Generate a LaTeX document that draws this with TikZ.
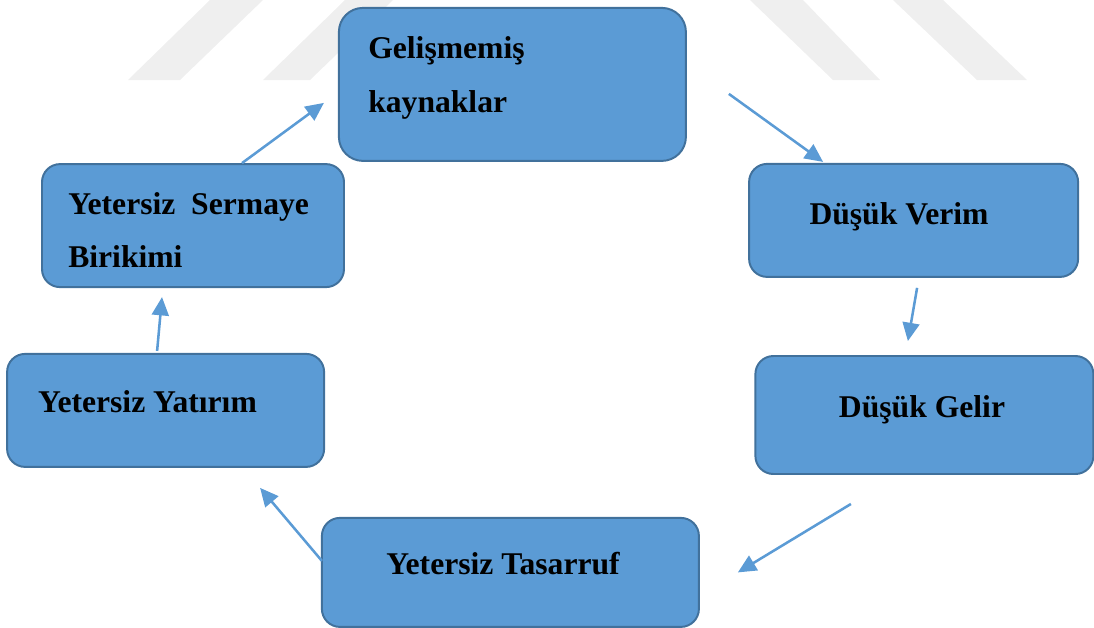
\documentclass[tikz,border=0pt]{standalone}
\usepackage{fontspec}
\setmainfont{Liberation Serif}
\usetikzlibrary{arrows.meta}
\definecolor{boxblue}{HTML}{5B9BD5}
\definecolor{boxedge}{HTML}{41719C}
\definecolor{markgray}{HTML}{EFEFEF}

\begin{document}
\begin{tikzpicture}[
    box/.style={draw=boxedge, line width=1.4pt, fill=boxblue, rounded corners=0.45cm},
    lbl/.style={font=\fontsize{22.5}{38}\selectfont\bfseries, inner sep=0pt, align=left},
    arr/.style={-{Triangle[length=13pt,width=12pt]}, color=boxblue, line width=1.8pt}]
    % basics
    \useasboundingbox (0,0) rectangle (27.35,-15.7);
    \fill[markgray] (3.2,-2) -- (4.5,-2) -- (6.575,0) -- (5.25,0) -- cycle;
    \fill[markgray] (6.575,-2) -- (7.75,-2) -- (9.825,0) -- (8.625,0) -- cycle;
    \fill[markgray] (18.75,0) -- (20.075,0) -- (22,-2) -- (20.825,-2) -- cycle;
    \fill[markgray] (22.325,0) -- (23.575,0) -- (25.675,-2) -- (24.425,-2) -- cycle;

    % boxes
    \node[box, minimum width=8.675cm, minimum height=3.825cm, rounded corners=0.6cm] (gel) at (12.81,-2.11) {};
    \node[box, minimum width=8.225cm, minimum height=2.825cm] (verim) at (22.84,-5.51) {};
    \node[box, minimum width=8.45cm, minimum height=2.95cm] (gelir) at (23.11,-10.375) {};
    \node[box, minimum width=9.425cm, minimum height=2.725cm] (tas) at (12.76,-14.31) {};
    \node[box, minimum width=7.925cm, minimum height=2.825cm] (yat) at (4.14,-10.26) {};
    \node[box, minimum width=7.55cm, minimum height=3.075cm] (serm) at (4.825,-5.64) {};

    % texts
    \node[lbl, anchor=west] (gel-t) at (9.2,-1.95) {Gelişmemiş\\kaynaklar};
    \node[lbl] (verim-t) at (22.475,-5.43) {Düşük Verim};
    \node[lbl] (gelir-t) at (23.05,-10.25) {Düşük Gelir};
    \node[lbl] (tas-t) at (12.575,-14.1) {Yetersiz Tasarruf};
    \node[lbl] (yat-t) at (3.6875,-10.05) {Yetersiz Yatırım};
    \node[lbl, anchor=west] (serm-t) at (1.7,-5.75) {Yetersiz\ \ Sermaye\\Birikimi};

    % cycle
    \draw[arr] ([xshift=1.225cm]serm.north) -- ([xshift=-0.35cm,yshift=-0.4625cm]gel.west);
    \draw[arr] ([xshift=1.05cm,yshift=-0.2375cm]gel.east) -- ([xshift=-2.2625cm,yshift=0.025cm]verim.north);
    \draw[arr] ([xshift=0.0875cm,yshift=-0.25cm]verim.south) -- ([xshift=-0.4125cm,yshift=0.35cm]gelir.north);
    \draw[arr] ([xshift=-1.8375cm,yshift=-0.725cm]gelir.south) -- ([xshift=0.95cm]tas.east);
    \draw[arr] ([xshift=0.025cm,yshift=0.2875cm]tas.west) -- ([xshift=2.3625cm,yshift=-0.5cm]yat.south);
    \draw[arr] ([xshift=-0.2125cm,yshift=0.05cm]yat.north) -- ([xshift=-0.775cm,yshift=-0.225cm]serm.south);
\end{tikzpicture}
\end{document}
